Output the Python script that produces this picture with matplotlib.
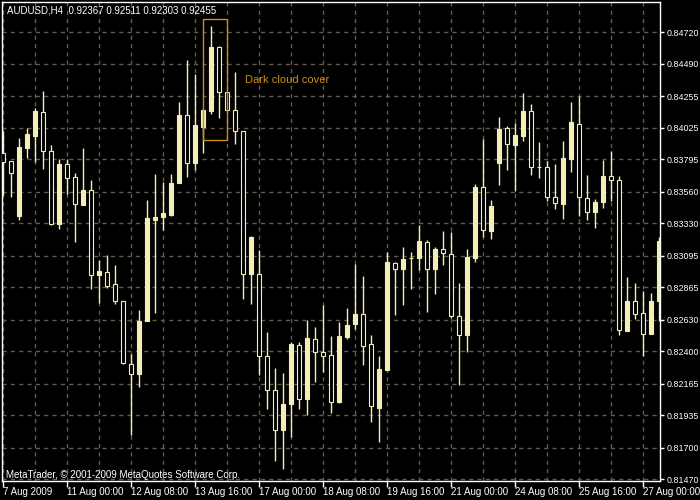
"""MetaTrader style AUDUSD H4 candlestick chart with a 'Dark cloud cover' mark."""

import matplotlib
matplotlib.use('Agg')
import matplotlib.pyplot as plt
from matplotlib.patches import Rectangle
import numpy as np

BG = '#000000'
FG = '#ffffff'
CANDLE = '#f3edb6'
GRID = '#645a4b'
MARK = '#d08c10'
FONT = ['Liberation Sans', 'DejaVu Sans']

# ------------------------------------------------------------
# data (AUDUSD H4, 7 Aug - 27 Aug 2009)
# ------------------------------------------------------------
opens = [0.83840, 0.83782, 0.83385, 0.83881, 0.83961, 0.84138, 0.83855, 0.83322,
         0.83763, 0.83666, 0.83460, 0.83572, 0.82952, 0.82977, 0.82890, 0.82769,
         0.82310, 0.82239, 0.82619, 0.83358, 0.83373, 0.83393, 0.83620, 0.84116,
         0.83765, 0.84033, 0.84149, 0.84609, 0.84283, 0.84154, 0.84000, 0.82959,
         0.82962, 0.82368, 0.82123, 0.81828, 0.82016, 0.82447, 0.82053, 0.82491,
         0.82397, 0.82377, 0.82031, 0.82502, 0.82597, 0.82672, 0.82457, 0.81987,
         0.82263, 0.83042, 0.82996, 0.83078, 0.83076, 0.83197, 0.82996, 0.83144,
         0.83107, 0.82658, 0.82520, 0.83076, 0.83593, 0.83271, 0.83765, 0.84021,
         0.83902, 0.83968, 0.84147, 0.83741, 0.83741, 0.83521, 0.83467, 0.83801,
         0.84050, 0.83514, 0.83409, 0.83482, 0.83675, 0.83644, 0.82546, 0.82769,
         0.82682, 0.82527, 0.82769]
highs = [0.84002, 0.83782, 0.83949, 0.84021, 0.84167, 0.84292, 0.83900, 0.83797,
         0.83797, 0.83695, 0.83879, 0.83644, 0.83061, 0.83100, 0.83028, 0.82769,
         0.82382, 0.82703, 0.83501, 0.83690, 0.83627, 0.83690, 0.84210, 0.84517,
         0.84413, 0.84154, 0.84764, 0.84618, 0.84283, 0.84430, 0.84000, 0.83235,
         0.83139, 0.82544, 0.82280, 0.82244, 0.82466, 0.82471, 0.82631, 0.82580,
         0.82735, 0.82515, 0.82616, 0.82718, 0.83037, 0.82950, 0.82522, 0.82370,
         0.83124, 0.83052, 0.83160, 0.83124, 0.83320, 0.83211, 0.83160, 0.83276,
         0.83264, 0.82899, 0.83146, 0.83617, 0.83944, 0.83501, 0.84103, 0.84038,
         0.84060, 0.84278, 0.84198, 0.83922, 0.83784, 0.83763, 0.83929, 0.84210,
         0.84254, 0.83683, 0.83506, 0.83792, 0.83857, 0.83675, 0.82943, 0.82899,
         0.82841, 0.82827, 0.83233]
lows = [0.83533, 0.83518, 0.83351, 0.83808, 0.83779, 0.83726, 0.83320, 0.83291,
        0.83545, 0.83192, 0.83460, 0.82854, 0.82752, 0.82861, 0.82747, 0.82307,
        0.81789, 0.82140, 0.82619, 0.82682, 0.83284, 0.83385, 0.83620, 0.83670,
        0.83719, 0.83839, 0.84123, 0.84098, 0.84152, 0.83904, 0.82781, 0.82745,
        0.82230, 0.81983, 0.81601, 0.81548, 0.81780, 0.81983, 0.81937, 0.82179,
        0.82251, 0.81951, 0.82024, 0.82491, 0.82563, 0.82299, 0.81886, 0.81741,
        0.82263, 0.82662, 0.82735, 0.82851, 0.82988, 0.82684, 0.82819, 0.83030,
        0.82643, 0.82154, 0.82399, 0.83047, 0.83233, 0.83218, 0.83612, 0.83721,
        0.83567, 0.83931, 0.83678, 0.83656, 0.83496, 0.83436, 0.83364, 0.83704,
        0.83387, 0.83358, 0.83293, 0.83438, 0.83496, 0.82517, 0.82546, 0.82638,
        0.82370, 0.82527, 0.82619]
closes = [0.83779, 0.83699, 0.83886, 0.83978, 0.84147, 0.83852, 0.83327, 0.83763,
          0.83663, 0.83470, 0.83572, 0.82955, 0.82986, 0.82872, 0.82764, 0.82314,
          0.82234, 0.82624, 0.83371, 0.83378, 0.83402, 0.83625, 0.84118, 0.83765,
          0.84045, 0.84154, 0.84611, 0.84283, 0.84152, 0.84000, 0.82959, 0.83231,
          0.82368, 0.82118, 0.81831, 0.82019, 0.82457, 0.82053, 0.82498, 0.82397,
          0.82365, 0.82034, 0.82515, 0.82595, 0.82674, 0.82437, 0.82002, 0.82275,
          0.83052, 0.82999, 0.83073, 0.83078, 0.83204, 0.82996, 0.83146, 0.83115,
          0.82655, 0.82520, 0.83088, 0.83596, 0.83279, 0.83458, 0.84016, 0.83905,
          0.83973, 0.84149, 0.83739, 0.83741, 0.83521, 0.83477, 0.83806, 0.84067,
          0.83518, 0.83409, 0.83487, 0.83675, 0.83644, 0.82553, 0.82769, 0.82672,
          0.82527, 0.82769, 0.83204]

price_labels = ['0.84720', '0.84490', '0.84255', '0.84025', '0.83795', '0.83560',
                '0.83330', '0.83095', '0.82865', '0.82630', '0.82400', '0.82165',
                '0.81935', '0.81700', '0.81470']
time_labels = ['7 Aug 2009', '11 Aug 00:00', '12 Aug 08:00', '13 Aug 16:00',
               '17 Aug 00:00', '18 Aug 08:00', '19 Aug 16:00', '21 Aug 00:00',
               '24 Aug 08:00', '25 Aug 16:00', '27 Aug 00:00']

# pattern box (bar index from/to, price from/to)
box_bars = (25, 28)
box_prices = (0.83934, 0.84812)

# ------------------------------------------------------------
fig = plt.figure(figsize=(7, 5), dpi=100, facecolor=BG)
ax = fig.add_axes([2 / 700, 19.5 / 500, 658 / 700, 478.5 / 500])
ax.set_facecolor(BG)

o = np.array(opens)
h = np.array(highs)
l = np.array(lows)
c = np.array(closes)
x = np.arange(len(o))
bull = c >= o

# wicks, then bodies (bear bodies hollow)
ax.vlines(x, l, h, color=CANDLE, linewidth=1, zorder=2)
ax.bar(x[bull], (c - o)[bull], bottom=o[bull], width=0.5,
       color=CANDLE, edgecolor=CANDLE, linewidth=0.8, zorder=3)
ax.bar(x[~bull], (c - o)[~bull], bottom=o[~bull], width=0.5,
       color=BG, edgecolor=CANDLE, linewidth=0.8, zorder=3)

ax.set_xlim(-0.125, len(o) - 0.875)
ax.set_ylim(0.81462, 0.84938)

# axes / ticks
ticks_y = [float(s) for s in price_labels]
ax.set_yticks(ticks_y)
ax.set_yticklabels(price_labels)
ax.yaxis.tick_right()
ax.set_xticks(x[::8])
ax.set_xticklabels(time_labels)
ax.set_xticks(x[4::8], minor=True)
for lab in ax.get_xticklabels():
    lab.set_ha('left')
    lab.set_fontfamily(FONT)
for lab in ax.get_yticklabels():
    lab.set_fontfamily(FONT)

ax.tick_params(axis='x', which='major', colors=FG, labelsize=7,
               length=4, width=1, direction='out', pad=1)
ax.tick_params(axis='y', which='major', colors=FG, labelsize=6.4,
               length=3, width=1, direction='out', pad=1.5)
ax.tick_params(which='minor', length=0)

ax.grid(True, which='both', color=GRID, linewidth=1, linestyle=(0, (3, 3)), zorder=0)
ax.set_axisbelow(True)

for spine in ax.spines.values():
    spine.set_color(FG)
    spine.set_linewidth(1)

# dark cloud cover mark
ax.add_patch(Rectangle((box_bars[0], box_prices[0]), box_bars[1] - box_bars[0],
                       box_prices[1] - box_prices[0], fill=False,
                       edgecolor=MARK, linewidth=1, zorder=4))
ax.text(30.2, 0.84368, 'Dark cloud cover', color=MARK, fontsize=8,
        family=FONT, va='center', ha='left', zorder=5)

# header and copyright
fig.text(7 / 700, 1 - 10.5 / 500, 'AUDUSD,H4  0.92367 0.92511 0.92303 0.92455',
         color=FG, fontsize=7, family=FONT, va='center', ha='left')
fig.text(6 / 700, 1 - 475 / 500, 'MetaTrader, \u00a9 2001-2009 MetaQuotes Software Corp.',
         color=FG, fontsize=7, family=FONT, va='center', ha='left')

plt.savefig('out.png', dpi=100, facecolor=BG)
